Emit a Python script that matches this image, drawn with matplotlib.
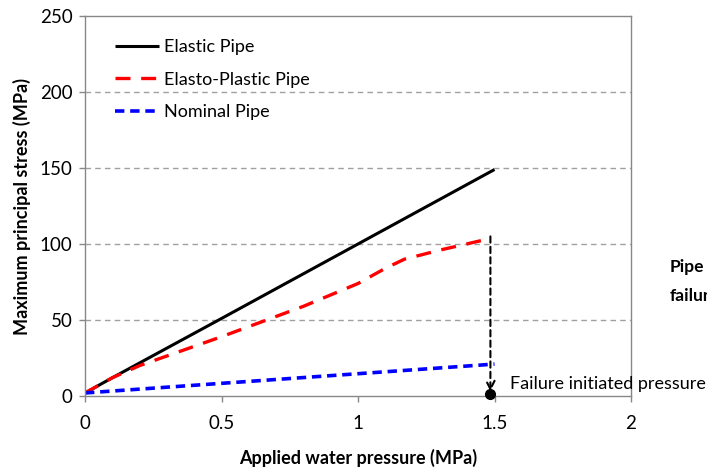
import matplotlib
matplotlib.use("Agg")
import matplotlib.pyplot as plt

plt.rcParams['font.family'] = ['Lato', 'DejaVu Sans']

# Data
elastic_x = [0, 0.1, 0.5, 1.0, 1.5]
elastic_y = [2, 12, 51, 100, 149]

plastic_x = [0, 0.1, 0.2, 0.5, 0.8, 1.0, 1.1, 1.17, 1.3, 1.47]
plastic_y = [2, 12, 20, 39, 59, 74, 84, 90, 96, 103]

nominal_x = [0, 1.5]
nominal_y = [2, 21]

failure_x = 1.485
failure_top = 105

xticks = [0, 0.5, 1, 1.5, 2]
xticklabels = ['0', '0.5', '1', '1.5', '2']
yticks = [0, 50, 100, 150, 200, 250]

FS = 13

fig = plt.figure(figsize=(7.07, 4.73), dpi=100)
ax = fig.add_axes([85 / 707, 1 - 396 / 473, (631 - 85) / 707, (396 - 16) / 473])

ax.plot(elastic_x, elastic_y, color='black', lw=2.2, label='Elastic Pipe', solid_capstyle='butt')
ax.plot(plastic_x, plastic_y, color='#ff0000', lw=2.4, dashes=(4.5, 3.2), label='Elasto-Plastic Pipe')
ax.plot(nominal_x, nominal_y, color='#0000ff', lw=2.6, dashes=(2.6, 1.6), label='Nominal Pipe')

# failure arrow
ax.annotate('', xy=(failure_x, 3), xytext=(failure_x, failure_top),
            arrowprops=dict(arrowstyle='->', color='black', lw=1.5, linestyle=(0, (3, 2)),
                            mutation_scale=15, shrinkA=0, shrinkB=0))
ax.plot([failure_x], [1], marker='o', color='black', ms=7, clip_on=False, zorder=5)
ax.text(1.555, 8, 'Failure initiated pressure', fontsize=FS, va='center', ha='left', clip_on=False)

fig.text(670 / 707, 1 - 267 / 473, 'Pipe', fontsize=FS - 0.5, fontweight='bold', va='center', ha='left')
fig.text(670 / 707, 1 - 296 / 473, 'failure', fontsize=FS - 0.5, fontweight='bold', va='center', ha='left')

ax.set_xlim(0, 2)
ax.set_ylim(0, 250)
ax.set_xticks(xticks)
ax.set_xticklabels(xticklabels)
ax.set_yticks(yticks)
ax.tick_params(axis='both', labelsize=FS + 0.5, direction='out', length=4, color='#888888', width=1)
ax.tick_params(axis='x', pad=10)
ax.tick_params(axis='y', pad=5)

for yv in [50, 100, 150, 200]:
    ax.axhline(yv, color='#a0a0a0', lw=1, dashes=(4, 3), zorder=0)

for s in ax.spines.values():
    s.set_color('#888888')
    s.set_linewidth(1)

ax.set_xlabel('Applied water pressure (MPa)', fontsize=FS, fontweight='bold', labelpad=12)
ax.set_ylabel('Maximum principal stress (MPa)', fontsize=FS, fontweight='bold', labelpad=6)

leg = ax.legend(loc='upper left', bbox_to_anchor=(30 / 546, 1 - 23 / 380), frameon=False, fontsize=FS,
                borderpad=0, borderaxespad=0,
                handlelength=2.45, handletextpad=0.25, labelspacing=0.92)

fig.savefig('out.png', dpi=100)
